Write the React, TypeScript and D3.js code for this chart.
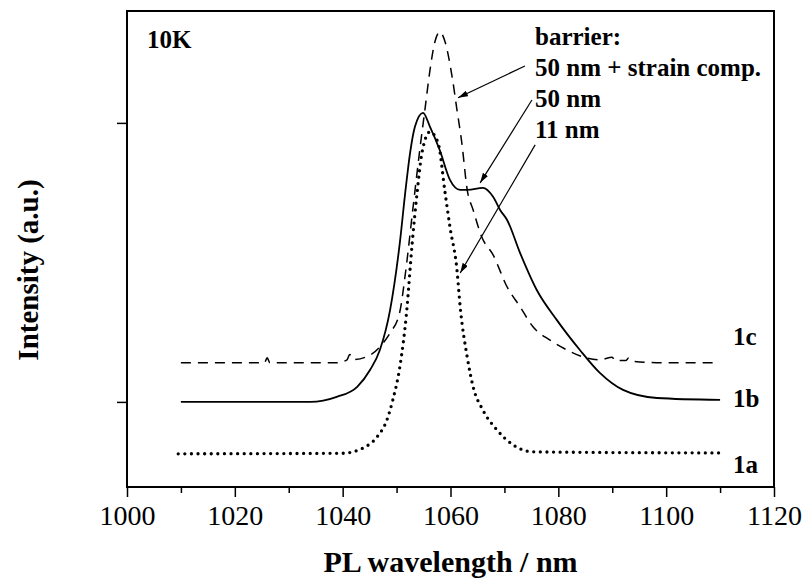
import { useEffect, useRef } from 'react';
import * as d3 from 'd3';

// 1a: 11 nm barrier (dotted)
const wl1a = [1009.5, 1040, 1043.8, 1046.4, 1048.2, 1049.3, 1050.6, 1051.8, 1052.9, 1053.8, 1054.7, 1056.2, 1057.7, 1059, 1059.9, 1061.2, 1061.8, 1063.1, 1064.2, 1066, 1068.6, 1071.6, 1075.3, 1110];
const int1a = [-0.186, -0.184, -0.165, -0.125, -0.065, 0.007, 0.125, 0.31, 0.57, 0.749, 0.892, 0.968, 0.928, 0.749, 0.627, 0.473, 0.34, 0.161, 0.054, -0.029, -0.1, -0.154, -0.179, -0.183];

// 1b: 50 nm barrier (solid)
const wl1b = [1010, 1034, 1038.9, 1042.7, 1045.1, 1046.9, 1048.8, 1050.6, 1051.6, 1052.5, 1053.4, 1054.9, 1056.2, 1058, 1059.9, 1061.8, 1063.2, 1066, 1067.9, 1069.2, 1070.5, 1072.9, 1076, 1079.7, 1084, 1087.7, 1092, 1098.3, 1110];
const int1b = [0, 0, 0.018, 0.054, 0.115, 0.186, 0.33, 0.57, 0.749, 0.892, 0.986, 1.036, 0.986, 0.903, 0.796, 0.76, 0.76, 0.767, 0.735, 0.688, 0.652, 0.534, 0.401, 0.294, 0.186, 0.104, 0.043, 0.014, 0.007];

// 1c: 50 nm barrier + strain compensation (dashed)
const wl1c = [1010, 1025.5, 1026, 1026.5, 1038.9, 1040.8, 1041.3, 1042, 1045.1, 1047.5, 1048.8, 1050.6, 1051.6, 1053, 1054.3, 1055.3, 1056.2, 1057.1, 1058, 1059, 1060.3, 1061.2, 1062.1, 1063.1, 1064.2, 1065.8, 1067.9, 1070.5, 1072.9, 1075.3, 1078.4, 1081.6, 1084.6, 1087.7, 1090, 1090.5, 1092.5, 1093, 1093.5, 1100, 1109.5];
const int1c = [0.14, 0.14, 0.158, 0.14, 0.14, 0.151, 0.17, 0.152, 0.168, 0.211, 0.247, 0.323, 0.455, 0.688, 0.903, 1.054, 1.19, 1.29, 1.326, 1.29, 1.165, 1.047, 0.928, 0.76, 0.688, 0.591, 0.527, 0.412, 0.341, 0.269, 0.222, 0.186, 0.161, 0.151, 0.16, 0.148, 0.148, 0.156, 0.146, 0.14, 0.14];

const xMajorTicks = [1000, 1020, 1040, 1060, 1080, 1100, 1120];
const xMinorTicks = [1010, 1030, 1050, 1070, 1090, 1110];
const yTicks = [0, 1];

const seriesLabels = ['1a', '1b', '1c'];
const barrierLines = ['barrier:', '50 nm + strain comp.', '50 nm', '11 nm'];

// arrows: [wl0, int0, wl1, int1], from text to curve
const arrows = [
    [1073.8, 1.204, 1061.4, 1.09],
    [1075.1, 1.082, 1065.5, 0.785],
    [1075.7, 0.921, 1061.8, 0.462],
];

function PLChart() {
    const chartRef = useRef<SVGSVGElement | null>(null);

    useEffect(() => {
        const svg = d3.select(chartRef.current);
        const width = 804;
        const height = 578;
        const margin = { top: 11, right: 30, bottom: 91, left: 127 };
        const font = '"Liberation Serif", "Times New Roman", serif';

        svg.selectAll('*').remove();

        const x = d3.scaleLinear().domain([1000, 1120]).range([margin.left, width - margin.right]);
        const y = d3.scaleLinear().domain([-0.305, 1.401]).range([height - margin.bottom, margin.top]);

        const defs = svg.append('defs');
        defs.append('marker')
            .attr('id', 'arrowhead')
            .attr('markerUnits', 'userSpaceOnUse')
            .attr('markerWidth', 10)
            .attr('markerHeight', 6)
            .attr('refX', 10)
            .attr('refY', 3)
            .attr('orient', 'auto')
            .append('path')
            .attr('d', 'M0,0 L10,3 L0,6 Z')
            .attr('fill', '#000');

        // x axis, major and minor ticks
        const xAxis = svg.append('g')
            .attr('transform', `translate(0,${height - margin.bottom})`)
            .call(d3.axisBottom(x).tickValues(xMajorTicks).tickSize(10).tickPadding(8).tickFormat(d3.format('d')));
        xAxis.select('.domain').remove();
        xAxis.selectAll('line').attr('stroke-width', 1.5);
        xAxis.selectAll('text')
            .attr('font-family', font)
            .attr('font-size', 28)
            .attr('fill', '#000');

        const xMinor = svg.append('g')
            .attr('transform', `translate(0,${height - margin.bottom})`)
            .call(d3.axisBottom(x).tickValues(xMinorTicks).tickSize(6).tickFormat(() => ''));
        xMinor.select('.domain').remove();
        xMinor.selectAll('line').attr('stroke-width', 1.5);

        const yAxis = svg.append('g')
            .attr('transform', `translate(${margin.left},0)`)
            .call(d3.axisLeft(y).tickValues(yTicks).tickSize(10).tickFormat(() => ''));
        yAxis.select('.domain').remove();
        yAxis.selectAll('line').attr('stroke-width', 1.5);

        // frame
        svg.append('rect')
            .attr('x', margin.left)
            .attr('y', margin.top)
            .attr('width', width - margin.left - margin.right)
            .attr('height', height - margin.top - margin.bottom)
            .attr('fill', 'none')
            .attr('stroke', '#000')
            .attr('stroke-width', 2);

        const line = d3.line<[number, number]>()
            .x((d) => x(d[0]))
            .y((d) => y(d[1]))
            .curve(d3.curveMonotoneX);

        svg.append('path')
            .datum(d3.zip(wl1c, int1c) as [number, number][])
            .attr('d', line)
            .attr('fill', 'none')
            .attr('stroke', '#000')
            .attr('stroke-width', 1.5)
            .attr('stroke-dasharray', '10 7');

        svg.append('path')
            .datum(d3.zip(wl1b, int1b) as [number, number][])
            .attr('d', line)
            .attr('fill', 'none')
            .attr('stroke', '#000')
            .attr('stroke-width', 1.8);

        svg.append('path')
            .datum(d3.zip(wl1a, int1a) as [number, number][])
            .attr('d', line)
            .attr('fill', 'none')
            .attr('stroke', '#000')
            .attr('stroke-width', 3.3)
            .attr('stroke-linecap', 'round')
            .attr('stroke-dasharray', '0 6.6');

        // series labels at right end
        const labelOffsets = [20, 7, -18];
        const lastVals = [int1a[int1a.length - 1], int1b[int1b.length - 1], int1c[int1c.length - 1]];
        svg.append('g')
            .selectAll('text')
            .data(seriesLabels)
            .enter()
            .append('text')
            .attr('x', x(1110) + 13)
            .attr('y', (d, i) => y(lastVals[i]) + labelOffsets[i])
            .attr('font-family', font)
            .attr('font-size', 25)
            .attr('font-weight', 'bold')
            .text((d) => d);

        svg.append('text')
            .attr('x', 147)
            .attr('y', 48)
            .attr('font-family', font)
            .attr('font-size', 25)
            .attr('font-weight', 'bold')
            .text('10K');

        svg.append('g')
            .selectAll('text')
            .data(barrierLines)
            .enter()
            .append('text')
            .attr('x', 535)
            .attr('y', (d, i) => 45 + i * 31)
            .attr('font-family', font)
            .attr('font-size', 25)
            .attr('font-weight', 'bold')
            .text((d) => d);

        svg.append('g')
            .selectAll('line')
            .data(arrows)
            .enter()
            .append('line')
            .attr('x1', (d) => x(d[0]))
            .attr('y1', (d) => y(d[1]))
            .attr('x2', (d) => x(d[2]))
            .attr('y2', (d) => y(d[3]))
            .attr('stroke', '#000')
            .attr('stroke-width', 1.2)
            .attr('marker-end', 'url(#arrowhead)');

        // axis titles
        svg.append('text')
            .attr('x', (margin.left + width - margin.right) / 2)
            .attr('y', 572)
            .attr('text-anchor', 'middle')
            .attr('font-family', font)
            .attr('font-size', 30)
            .attr('font-weight', 'bold')
            .text('PL wavelength / nm');

        svg.append('text')
            .attr('transform', 'translate(38,270) rotate(-90)')
            .attr('text-anchor', 'middle')
            .attr('font-family', font)
            .attr('font-size', 29)
            .attr('font-weight', 'bold')
            .text('Intensity (a.u.)');
    }, []);

    return (
        <svg
            ref={chartRef}
            width={804}
            height={578}
            style={{ position: 'absolute', left: 0, top: 0, background: '#fff' }}
        ></svg>
    );
}

export default function App() {
    return <PLChart />;
}
